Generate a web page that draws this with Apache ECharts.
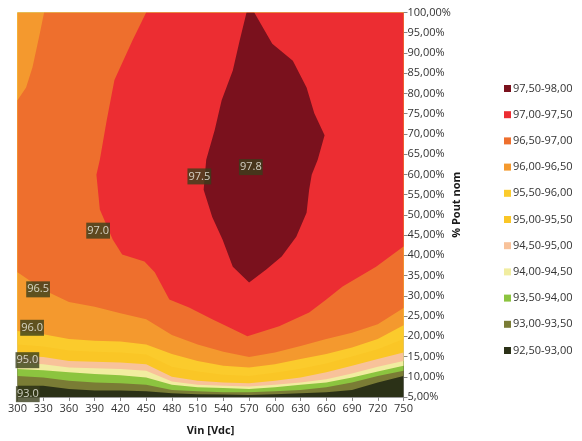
<!DOCTYPE html>
<html><head><meta charset="utf-8">
<script src="https://cdn.jsdelivr.net/npm/echarts@6/dist/echarts.min.js"></script>
<style>html,body{margin:0;padding:0;background:#fff}#chart{width:582px;height:441px}</style>
</head><body><div id="chart"></div>
<script>
// ---- data ----
const vin = [300,330,360,390,420,450,480,510,540,570,600,630,660,690,720,750];
// % Pout at which efficiency crosses each level, per Vin column (lower bands)
const edge93_0 = [7.8, 7.8, 7.0, 6.6, 6.6, 6.4, 5.9, 5.7, 5.6, 5.5, 5.7, 5.9, 6.2, 6.7, 8.6, 10.2];
const edge93_5 = [10.2, 9.8, 9.0, 8.6, 8.4, 8.0, 6.7, 6.4, 6.2, 6.2, 6.4, 6.7, 7.4, 8.6, 10.2, 11.5];
const edge94_0 = [11.9, 11.6, 11.1, 10.7, 10.4, 9.8, 8.0, 7.4, 7.2, 7.0, 7.4, 8.0, 8.6, 9.8, 11.3, 12.7];
const edge94_5 = [13.5, 13.1, 12.3, 12.1, 11.9, 11.5, 8.8, 8.0, 7.8, 7.6, 8.0, 8.6, 9.4, 10.8, 12.5, 13.9];
const edge95_0 = [15.2, 14.9, 13.9, 13.7, 13.5, 13.1, 10.0, 9.0, 8.6, 8.4, 9.0, 9.8, 11.1, 12.7, 14.4, 16.0];
const edge95_5 = [18.0, 17.5, 16.5, 16.2, 16.0, 15.5, 12.5, 11.3, 10.5, 10.2, 11.0, 12.0, 13.3, 15.0, 16.8, 19.3];
const edge96_0 = [21.3, 20.5, 19.3, 18.9, 18.7, 18.0, 15.6, 13.9, 12.7, 12.3, 13.1, 14.4, 15.6, 17.2, 19.3, 22.7];
const edge96_5 = [35.8, 31.5, 28.5, 27.3, 25.7, 24.2, 20.3, 18.0, 16.2, 14.9, 16.0, 17.6, 19.3, 20.9, 23.0, 27.0];
// upper-left corner where efficiency drops back below 96.5 ([Vin, %Pout], from top edge to left edge)
const corner96_5 = [[331,100],[326,94.8],[317.5,86.5],[310,81.5],[300,78.3]];
// 97.0 contour ([Vin, %Pout]), from top edge round to right edge
const contour97_0 = [[450,100],[434,93.1],[413,83.3],[404,73.4],[396,63.6],[392,59.9],[396,51.3],[411,43.9],[422,40.2],[448,38.5],[460,35.8],[477,29.1],[500,27.1],[527,24.2],[547,22.2],[568,20.0],[605,22.5],[640,25.9],[660,29.1],[679,32.3],[718,37.2],[750,42.2]];
// 97.5 contour (closed blob)
const contour97_5 = [[567,100],[559,93.1],[551,85.7],[538,78.3],[530,71.0],[520,63.6],[517,56.2],[527,49.5],[539,43.9],[551,37.2],[570,33.3],[590,36.5],[608,39.7],[625,44.6],[637,50.5],[640,56.2],[643,59.9],[650,63.6],[658,69.7],[646,75.1],[637,81.5],[621,88.1],[597,92.3],[576,100]];
// legend bands
const bandMins = [92.5, 93.0, 93.5, 94.0, 94.5, 95.0, 95.5, 96.0, 96.5, 97.0, 97.5];
const bandLabels = ['92,50-93,00','93,00-93,50','93,50-94,00','94,00-94,50','94,50-95,00','95,00-95,50','95,50-96,00','96,00-96,50','96,50-97,00','97,00-97,50','97,50-98,00'];
// contour labels [Vin, %Pout, text]
const contourLabels = [[572,61.8,'97.8'],[512,59.5,'97.5'],[394,46.1,'97.0'],[324,31.6,'96.5'],[317,22.1,'96.0'],[311.5,14.1,'95.0'],[312,5.7,'93.0']];
const yMin = 5, yMax = 100, yStep = 5, xStep = 30;

// ---- styles ----
const bandColors = ['#2B3117','#7A7C35','#8CC43F','#F1EDA0','#F8C29A','#FAC626','#FBCB2C','#F4992E','#EE6F2D','#EC2D32','#7A111D'];
const FONT = 'Open Sans';

const xMin = vin[0], xMax = vin[vin.length - 1];
const lowerEdges = [null, edge93_0, edge93_5, edge94_0, edge94_5, edge95_0, edge95_5, edge96_0, edge96_5];

function regionPoints(i) {
  if (i === 0) return [[xMin,yMin],[xMax,yMin],[xMax,yMax],[xMin,yMax]];
  if (i <= 7) {
    const pts = vin.map((v,k) => [v, lowerEdges[i][k]]);
    pts.push([xMax,yMax],[xMin,yMax]);
    return pts;
  }
  if (i === 8) {
    const pts = vin.map((v,k) => [v, edge96_5[k]]);
    pts.push([xMax,yMax]);
    return pts.concat(corner96_5);
  }
  if (i === 9) return contour97_0.concat([[xMax,yMax]]);
  return contour97_5;
}

const chart = echarts.init(document.getElementById('chart'), null, {renderer:'canvas'});
chart.setOption({
  animation: false,
  backgroundColor: '#fff',
  grid: {left: 17.5, right: 178.5, top: 12.5, bottom: 42.5},
  xAxis: {
    type: 'value', min: xMin, max: xMax, interval: xStep,
    name: 'Vin [Vdc]', nameLocation: 'middle', nameGap: 28, nameMoveOverlap: false,
    nameTextStyle: {fontFamily: FONT, fontWeight: 'bold', fontSize: 11, color: '#1a1a1a'},
    axisLine: {show: true, lineStyle: {color: '#999'}},
    axisTick: {show: true, length: 4, lineStyle: {color: '#888'}},
    axisLabel: {fontFamily: FONT, fontSize: 11, color: '#333', margin: 6},
    splitLine: {show: false}
  },
  yAxis: {
    type: 'value', position: 'right', min: yMin, max: yMax, interval: yStep,
    name: '% Pout nom', nameLocation: 'middle', nameGap: 48, nameRotate: 90, nameMoveOverlap: false,
    nameTextStyle: {fontFamily: FONT, fontWeight: 'bold', fontSize: 11, color: '#1a1a1a'},
    axisLine: {show: true, lineStyle: {color: '#999'}},
    axisTick: {show: true, length: 4, lineStyle: {color: '#888'}},
    axisLabel: {fontFamily: FONT, fontSize: 11, color: '#333', margin: 4,
      formatter: v => v.toFixed(2).replace('.', ',') + '%'},
    splitLine: {show: false}
  },
  visualMap: {
    type: 'piecewise', seriesIndex: 0, dimension: 0, orient: 'vertical', align: 'left',
    left: 504, top: 83, padding: 0, itemWidth: 7, itemHeight: 7, itemGap: 15.2, textGap: 2,
    itemSymbol: 'rect', hoverLink: false,
    pieces: bandMins.map((m,i) => ({min: m, max: m + 0.5, label: bandLabels[i], color: bandColors[i]})),
    textStyle: {fontFamily: FONT, fontSize: 11, color: '#333'}
  },
  series: [
    {
      type: 'custom', coordinateSystem: 'cartesian2d', clip: true, silent: true,
      data: bandMins.map(m => [m + 0.25]),
      renderItem: function (params, api) {
        const i = params.dataIndex;
        const pts = regionPoints(i).map(p => api.coord(p));
        return {type: 'polygon', shape: {points: pts},
          style: {fill: bandColors[i], stroke: null}};
      }
    },
    {
      type: 'scatter', symbolSize: 0, silent: true, z: 5,
      data: contourLabels,
      label: {show: true, position: 'inside', formatter: p => p.value[2],
        fontFamily: FONT, fontSize: 11, color: '#f2f2ea', backgroundColor: '#3A3F1C',
        padding: [3, 1, 2, 1]}
    }
  ]
});
</script></body></html>
